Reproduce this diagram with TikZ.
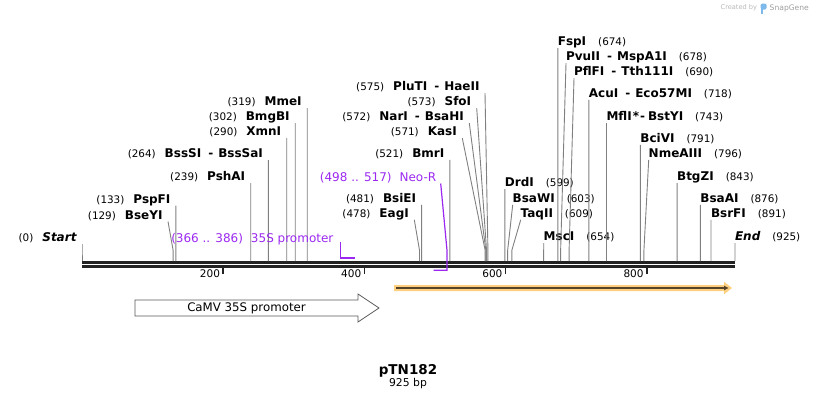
\documentclass[tikz,border=0pt]{standalone}
\usepackage{fontspec}
\setmainfont{DejaVu Sans}
\usetikzlibrary{calc}
\usetikzlibrary{arrows.meta}
\usetikzlibrary{positioning}

\definecolor{featpurple}{RGB}{155,40,240}
\definecolor{cutgray}{RGB}{128,128,128}
\definecolor{rulerblack}{RGB}{34,34,34}
\definecolor{orfband}{RGB}{255,207,128}
\definecolor{orfline}{RGB}{85,68,42}
\definecolor{snapblue}{RGB}{125,185,235}

\newcommand{\dsh}{\kern7pt-\kern5pt}

\tikzset{
    enzname/.style={font=\fontsize{12}{14}\selectfont\bfseries, inner sep=0pt, outer sep=0pt},
    enznum/.style={font=\fontsize{10.4}{12}\selectfont, inner sep=0pt, outer sep=0pt},
    featlabel/.style={font=\fontsize{12}{14}\selectfont, text=featpurple, inner sep=0pt, outer sep=0pt},
    cutline/.style={cutgray, line width=0.9pt},
    ruler/.style={rulerblack, line width=2.7pt},
}

\begin{document}
\begin{tikzpicture}[x=1pt,y=-1pt]
    \useasboundingbox (0,0) rectangle (818,400);
    % sequence line
    \coordinate (seqstart) at (82,262.3);
    \coordinate (seqend) at (735,262.3);
    \draw[ruler] (seqstart) -- (seqend);
    \draw[ruler] ([yshift=-4pt]seqstart) -- ([yshift=-4pt]seqend);
    \foreach \t in {200,400,600,800}
    {
        \coordinate (tick\t) at ({82+\t*0.70595},266);
        \draw[rulerblack, line width=1.6pt] (tick\t) -- ([yshift=-8.3pt]tick\t);
        \node[font=\fontsize{10.5}{12}\selectfont, inner sep=0pt, anchor=base east] (ticklab\t) at ([xshift=-3pt,yshift=-11.3pt]tick\t) {\t};
    }
    % sites labelled on the left
    \foreach \bp/\lx/\by/\nm [count=\i] in {0/82/241/{\itshape Start}, 129/168/219/BseYI, 133/175.9/203/PspFI,
        239/250.7/180.7/PshAI, 264/268.4/157.7/{BssSI\dsh BssSaI}, 290/286.7/135.7/XmnI, 302/295.2/120.7/BmgBI,
        319/307.2/105.7/MmeI, 478/414.3/217.3/EagI, 481/421.6/202.3/BsiEI, 521/449.8/157.3/BmrI,
        571/462.3/135.7/KasI, 572/469.3/120.7/{NarI\dsh BsaHI}, 573/476.7/105.7/SfoI, 575/485/90.7/{PluTI\dsh HaeII}}
    {
        \coordinate (ltop\i) at (\lx,{\by+2.5});
        \coordinate (lsite\i) at ({82+\bp*0.70595},261);
        \node[enzname, anchor=base east] (lname\i) at ([xshift=-5.5pt,yshift=2.5pt]ltop\i) {\nm};
        \node[enznum, anchor=base east] (lnum\i) at ([xshift=-9pt]lname\i.base west) {(\bp)};
        \draw[cutline] (ltop\i) -- ([yshift=11pt]lsite\i) -- (lsite\i);
    }
    % sites labelled on the right
    \foreach \bp/\lx/\by/\nm [count=\i] in {599/504.9/186.7/DrdI, 603/512.7/202.3/BsaWI, 609/520.7/217.3/TaqII,
        654/543.7/240.7/MscI, 674/557.8/45.7/FspI, 678/566/60.7/{PvuII\dsh MspA1I}, 690/574/75.7/{PflFI\dsh Tth111I},
        718/588.9/97.3/{AcuI\dsh Eco57MI}, 743/606.5/120.7/{MflI\kern1pt*\kern1pt-\kern3pt BstYI},
        791/640.4/142.3/BciVI, 796/648.7/157.3/NmeAIII, 843/677.1/180.7/BtgZI, 876/700.4/202.3/BsaAI,
        891/711/217.3/BsrFI, 925/735/240.7/{\itshape End}}
    {
        \coordinate (rtop\i) at (\lx,{\by+2.5});
        \coordinate (rsite\i) at ({82+\bp*0.70595},261);
        \node[enzname, anchor=base west] (rname\i) at ([yshift=2.5pt]rtop\i) {\nm};
        \node[enznum, anchor=base west] (rnum\i) at ([xshift=12pt]rname\i.base east) {(\bp)};
        \draw[cutline] (rtop\i) -- ([yshift=11pt]rsite\i) -- (rsite\i);
    }
    % features
    \coordinate (p35a) at ({82+366*0.70595},242);
    \coordinate (p35b) at ({82+386*0.70595},258);
    \node[featlabel, anchor=base east] (p35name) at ([xshift=-7pt]p35a) {35S promoter};
    \node[featlabel, anchor=base east] (p35num) at ([xshift=-8pt]p35name.base west) {(366 .. 386)};
    \draw[featpurple, line width=1.4pt] (p35a) -- (p35a |- p35b) -- (p35b);
    \coordinate (neotop) at (440.7,183.5);
    \coordinate (neoa) at ({82+517*0.70595},270.3);
    \coordinate (neob) at ({82+498*0.70595},270.3);
    \node[featlabel, anchor=base east] (neoname) at ([xshift=-4.5pt,yshift=2.5pt]neotop) {Neo-R};
    \node[featlabel, anchor=base east] (neonum) at ([xshift=-8pt]neoname.base west) {(498 .. 517)};
    \draw[featpurple, line width=1.2pt] (neotop) -- ([yshift=20.3pt]neoa) -- (neoa) -- (neob);
    % open reading frame
    \coordinate (orfstart) at (394,288);
    \coordinate (orfend) at (732,288);
    \fill[orfband] ([yshift=3pt]orfstart) -- ([xshift=-8pt,yshift=3pt]orfend) -- ([xshift=-8pt,yshift=6.3pt]orfend)
        -- (orfend) -- ([xshift=-8pt,yshift=-6.3pt]orfend) -- ([xshift=-8pt,yshift=-3pt]orfend) -- ([yshift=-3pt]orfstart) -- cycle;
    \draw[orfline, line width=2pt, -{Latex[length=5pt,width=5pt]}] ([xshift=2pt]orfstart) -- ([xshift=-3pt]orfend);
    % promoter arrow
    \draw[black!65, fill=white, line width=0.8pt] (135,300) -- (358,300) -- (358,294) -- (379,308) -- (358,322) -- (358,316) -- (135,316) -- cycle;
    \node[font=\fontsize{11.8}{14}\selectfont, inner sep=0pt] (camv) at (246.5,308) {CaMV 35S promoter};
    % title
    \node[font=\fontsize{13.5}{16}\selectfont\bfseries, inner sep=0pt, anchor=base] (title) at (408,374.3) {pTN182};
    \node[font=\fontsize{10.8}{13}\selectfont, inner sep=0pt, anchor=base] (size) at (408,386) {925 bp};
    % credit
    \node[font=\fontsize{6.6}{8}\selectfont, text=black!28, inner sep=0pt, anchor=base west] (credit) at (720.5,9.5) {Created by};
    \fill[snapblue] (760.5,3.5) rectangle (762.7,13.5);
    \fill[snapblue, rounded corners=1.5pt] (760.5,3.5) rectangle (766.7,9.5);
    \node[font=\fontsize{7.6}{9}\selectfont, text=black!38, inner sep=0pt, anchor=base west] (brand) at (769.5,10) {SnapGene};
\end{tikzpicture}
\end{document}
